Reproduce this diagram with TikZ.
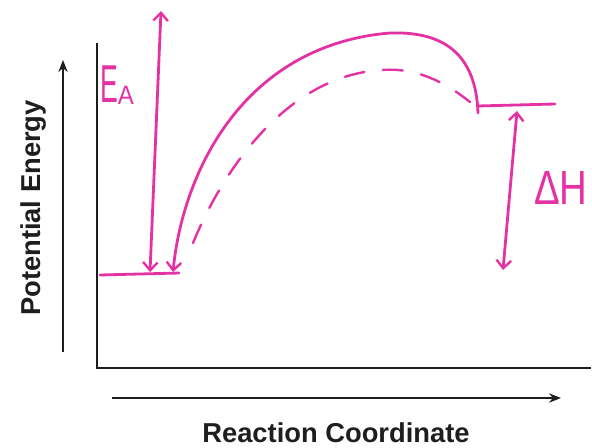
\documentclass[tikz,border=0pt]{standalone}
\usepackage{fontspec}
\setmainfont{Liberation Sans}
\usetikzlibrary{arrows.meta}
\definecolor{hot}{RGB}{228,50,165}
\definecolor{ink}{RGB}{30,30,30}
\tikzset{
  axis/.style={draw=ink, line width=2.2pt},
  dirarrow/.style={draw=ink, line width=1.5pt, -{Stealth[length=9pt,width=7pt]}},
  pinkline/.style={draw=hot, line width=2.1pt, line cap=round},
  axlabel/.style={text=ink, font=\bfseries\fontsize{20.5}{24}\selectfont, inner sep=0pt},
  pinklabel/.style={text=hot, inner sep=0pt}
}
\begin{document}
\begin{tikzpicture}[x=0.75pt,y=-0.75pt]
\useasboundingbox (0,0) rectangle (592,447);
% axes
\coordinate (ytop) at (97,43);
\coordinate (origin) at (97,368);
\coordinate (xend) at (591,368);
\draw[axis] (ytop) -- (origin) -- (xend);
% direction arrows
\coordinate (pa) at (63,352); \coordinate (pb) at (63,60);
\draw[dirarrow] (pa) -- (pb);
\coordinate (ra) at (112,398); \coordinate (rb) at (561,398);
\draw[dirarrow] (ra) -- (rb);
\node[axlabel, rotate=90] (pe) at (33,208) {Potential Energy};
\node[axlabel] (rc) at (336,433) {Reaction Coordinate};
% energy levels
\coordinate (r0) at (100,275); \coordinate (r1) at (179,273);
\draw[pinkline] (r0) -- (r1);
\coordinate (p0) at (477,106); \coordinate (p1) at (555,104);
\draw[pinkline] (p0) -- (p1);
% solid curve
\coordinate (s0) at (173,272); \coordinate (peak) at (390,33); \coordinate (s1) at (478,113);
\draw[pinkline, {Straight Barb[length=6pt,width=11pt,line width=1.8pt]}-] (s0) .. controls (183,170) and (245,45) .. (peak) .. controls (448,31) and (476,58) .. (s1);
% dashed curve
\coordinate (d0) at (193,243); \coordinate (dpeak) at (382,70); \coordinate (d1) at (470,102);
\draw[pinkline, line width=1.8pt, dash pattern=on 15pt off 14pt] (d0) .. controls (225,165) and (290,75) .. (dpeak) .. controls (420,67) and (450,86) .. (d1);
% Ea arrow
\coordinate (ea0) at (150,272); \coordinate (ea1) at (161,11);
\draw[pinkline, {Straight Barb[length=6pt,width=11pt,line width=1.8pt]}-{Straight Barb[length=6pt,width=11pt,line width=1.8pt]}] (ea0) -- (ea1);
\node[pinklabel] (ea) at (117,85) {\fontsize{40}{40}\selectfont\scalebox{0.5}[1]{E}\raisebox{-2pt}{\fontsize{20}{20}\selectfont\scalebox{0.9}[1]{A}}};
% dH arrow
\coordinate (dh0) at (517,111); \coordinate (dh1) at (503,270);
\draw[pinkline, {Straight Barb[length=6pt,width=11pt,line width=1.8pt]}-{Straight Barb[length=6pt,width=11pt,line width=1.8pt]}] (dh0) -- (dh1);
\node[pinklabel] (dh) at (561,188) {\fontsize{36}{36}\selectfont\scalebox{0.8}[1]{ΔH}};
\end{tikzpicture}
\end{document}
